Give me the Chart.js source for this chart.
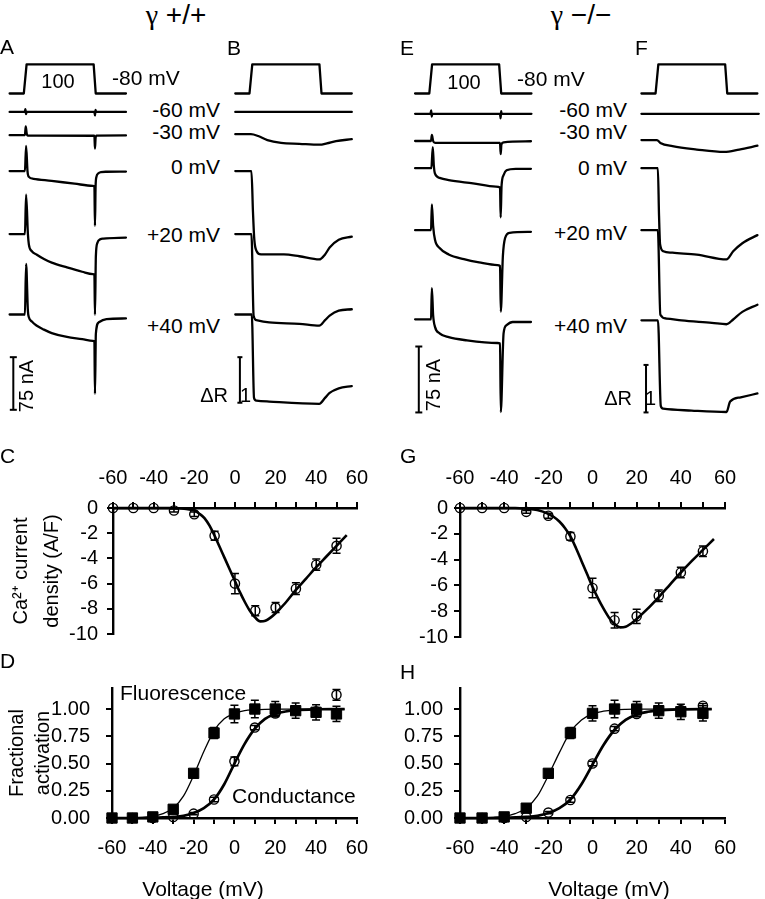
<!DOCTYPE html>
<html><head><meta charset="utf-8">
<script src="https://cdn.jsdelivr.net/npm/chart.js@4/dist/chart.umd.min.js"></script>
<style>
html,body{margin:0;padding:0;background:#fff;}
#fig{position:relative;width:765px;height:899px;overflow:hidden;font-family:"Liberation Sans",Arial,Helvetica,sans-serif;color:#000;}
#fig canvas{position:absolute;}
.t{position:absolute;white-space:nowrap;line-height:1;z-index:5;}
</style></head>
<body><div id="fig"></div>
<script>
// ================= DATA =================
const testPotentials = ['-60 mV', '-30 mV', '0 mV', '+20 mV', '+40 mV'];
const holdingLabel = '-80 mV';
const pulseDuration = 100;          // ms
const scaleBarCurrent = 75;         // nA
const scaleBarFluo = 1;             // ΔR

// voltage protocol: time (ms from pulse onset), level (0 = holding, 1 = test pulse)
const protocolTrace = [[-22.4,0],[-2,0],[2,1],[98.5,1],[101.5,0],[145,0]];

// γ+/+ currents (nA vs ms)
const iWT_m60 = [[-22.4,0],[-0.6,0],[0.3,4],[1.2,-3],[2,0],[99.6,0],[100.4,-5],[101.2,3],[102,0],[145,0]];
const iWT_m30 = [[-22.4,0],[-0.4,0],[0.8,12.5],[2.2,2],[3.5,-0.5],[99.6,-0.8],[100.4,-19],[101.3,-4],[102.5,-0.5],[145,-0.3]];
const iWT_0   = [[-22.4,0],[-0.4,0],[1.3,36],[3.3,0],[5.3,-8.3],[11.8,-11],[38,-14],[71,-18],[97.4,-21],[99.6,-22],[100.4,-78],[101.3,-22],[102.6,-8],[105,-3.5],[109,-1.4],[117,-1],[145,-0.7]];
const iWT_p20 = [[-22.4,0],[-0.4,0],[1.3,56],[3.9,0],[5.3,-15],[9.6,-24.5],[16.2,-29],[27,-35.5],[38.2,-40.7],[60.1,-47.6],[82,-53.7],[97.4,-57],[99.6,-58],[100.4,-115],[101.7,-31.5],[103.9,-12.5],[108,-7.5],[112.7,-6.5],[145,-5.1]];
const iWT_p40 = [[-22.4,0],[-0.4,0],[1.3,72],[3.9,5],[5.3,-4],[9.6,-10],[16.2,-15.7],[27,-21.5],[38.2,-26.4],[60.1,-32],[82,-35],[97.4,-37.5],[99.6,-38.5],[100.4,-113],[101.7,-27.4],[106,-11],[117,-6.5],[145,-5.6]];
// γ+/+ fluorescence (ΔR vs ms)
const fWT_m60 = [[-22.4,0],[145,0]];
const fWT_m30 = [[-22.4,0],[0,0],[10.5,-0.04],[23.7,-0.13],[43.4,-0.19],[69.7,-0.21],[98.7,-0.23],[109.2,-0.2],[122.4,-0.15],[145,-0.11]];
const fWT_0   = [[-22.4,0],[0.8,0],[3,-0.9],[4.9,-1.5],[8.3,-1.76],[14.5,-1.83],[47.4,-1.83],[69.7,-1.87],[98.3,-1.94],[106.6,-1.83],[113.2,-1.68],[126.3,-1.51],[145,-1.44]];
const fWT_p20 = [[-22.4,0],[0.8,0],[3.9,-1.79],[7.9,-1.89],[26.3,-1.94],[69.7,-1.97],[98.3,-2.01],[106.6,-1.89],[113.2,-1.79],[126.3,-1.68],[145,-1.65]];
const fWT_p40 = [[-22.4,0],[1.3,0],[4.5,-1.83],[7.9,-1.89],[26.3,-1.91],[98.3,-1.96],[106.6,-1.83],[113.2,-1.72],[126.3,-1.62],[145,-1.57]];
// γ−/− currents (nA vs ms)
const iKO_m60 = [[-22.4,0],[-0.3,0],[0.7,4],[1.5,-3],[2.3,0],[99.8,0],[100.6,-5],[101.4,3],[102.2,0],[145,0]];
const iKO_m30 = [[-22.4,0],[0.5,0],[1.7,7],[3.5,0],[6.2,-2.2],[96,-2.2],[99.8,-2.2],[100.7,-15],[101.8,-4],[104.9,-1.5],[144.3,-0.3]];
const iKO_0   = [[-22.4,0],[1,0],[3,24],[4.5,3],[6.2,-6.3],[12.8,-11],[25.9,-13.6],[60.9,-17.3],[93.8,-21],[99.8,-22],[100.7,-56],[102,-20],[104.9,-8],[109.2,-2.5],[122.4,-0.8],[144.3,-0.8]];
const iKO_p20 = [[-22.4,0],[0.5,0],[1.7,29.4],[3.5,5],[6.2,-11],[12.8,-20.2],[25.9,-27.6],[47.8,-33],[69.7,-36.7],[96,-39.7],[99.8,-40.5],[100.9,-92.6],[103.9,-29.4],[107,-9.2],[113.6,-3],[144.3,-1.9]];
const iKO_p40 = [[-22.4,0],[0.5,0],[1.7,35.6],[3.5,5],[6.2,-8.5],[12.8,-15.9],[25.9,-20.3],[52.2,-23.9],[96,-26.9],[99.8,-27.5],[100.9,-105.5],[104.9,-15.9],[109.2,-6.6],[118,-3],[144.3,-3]];
// γ−/− fluorescence (ΔR vs ms)
const fKO_m60 = [[-22.4,0],[147,0]];
const fKO_m30 = [[-22.4,0],[0,0],[4.9,-0.06],[22.4,-0.13],[57.5,-0.2],[97,-0.25],[118.8,-0.2],[145.1,-0.12]];
const fKO_0   = [[-22.4,0],[1.3,0],[3,-1.0],[4.5,-1.6],[9.2,-1.75],[22.4,-1.78],[57.5,-1.82],[100.4,-1.92],[110.1,-1.75],[123.3,-1.58],[145.1,-1.41]];
const fKO_p20 = [[-22.4,0],[1.3,0],[4.9,-1.78],[13.6,-1.86],[35.5,-1.9],[79.3,-1.95],[100.4,-1.98],[110.1,-1.88],[123.3,-1.72],[145.1,-1.57]];
const fKO_p40 = [[-22.4,0],[1.5,0],[5.5,-1.8],[9,-1.86],[50,-1.9],[100.4,-1.93],[105.7,-1.71],[121,-1.62],[145.1,-1.54]];

// I-V and activation data
const voltages = [-60,-50,-40,-30,-20,-10,0,10,20,30,40,50];
const ivWT    = [0,0,0,-0.2,-0.5,-2.2,-6.0,-8.15,-7.9,-6.4,-4.5,-3.0];
const ivWTerr = [0,0,0,0.12,0.18,0.35,0.8,0.4,0.4,0.47,0.45,0.6];
const ivKO    = [0,0,0,-0.3,-0.6,-2.2,-6.2,-8.7,-8.4,-6.8,-5.0,-3.35];
const ivKOerr = [0,0,0,0.1,0.2,0.3,0.75,0.6,0.55,0.45,0.4,0.4];
const ivFitVolt = [-60,-50,-40,-35,-30,-25,-20,-17.5,-15,-12.5,-10,-7.5,-5,-2.5,0,2.5,5,7.5,10,12.5,15,17.5,20,25,30,35,40,45,50,55];
const ivFitWT   = [0,0,0,0,0,-0.05,-0.2,-0.45,-0.8,-1.4,-2.2,-3.1,-4.0,-4.9,-5.8,-6.7,-7.5,-8.2,-8.7,-9.0,-8.95,-8.7,-8.35,-7.5,-6.5,-5.6,-4.7,-3.85,-3.0,-2.15];
const ivFitKO   = [0,0,0,0,-0.05,-0.15,-0.45,-0.7,-1.05,-1.55,-2.2,-3.1,-4.1,-5.1,-6.1,-7.0,-7.8,-8.5,-9.0,-9.25,-9.2,-8.95,-8.6,-7.8,-6.9,-5.95,-5.0,-4.1,-3.25,-2.4];

const fluoWT    = [0,0,0.01,0.08,0.41,0.78,0.955,1.0,1.0,0.985,0.97,0.955];
const fluoWTerr = [0,0,0,0.02,0.03,0.05,0.08,0.08,0.07,0.07,0.07,0.07];
const condWT    = [0,0,0,0.01,0.04,0.17,0.52,0.83,0.96,0.99,0.98,1.13];
const condWTerr = [0,0,0,0,0.01,0.02,0.04,0.02,0.02,0.02,0.02,0.05];
const fluoKO    = [0,0,0.01,0.09,0.41,0.78,0.96,1.0,1.0,0.985,0.975,0.96];
const fluoKOerr = [0,0,0,0.02,0.03,0.05,0.07,0.08,0.07,0.07,0.07,0.07];
const condKO    = [0,0,0,0.01,0.05,0.165,0.5,0.82,0.955,0.99,0.99,1.03];
const condKOerr = [0,0,0,0,0.01,0.02,0.02,0.02,0.02,0.02,0.02,0.02];
const actFitVolt  = [-60,-50,-45,-40,-35,-30,-25,-20,-15,-10,-5,0,5,10,15,20,25,30,40,54];
const fitFluoWT   = [0,0.002,0.006,0.017,0.04,0.09,0.2,0.39,0.61,0.8,0.91,0.96,0.985,0.993,0.997,0.999,1,1,1,1];
const fitCondWT   = [0,0,0,0.002,0.005,0.01,0.02,0.045,0.09,0.17,0.31,0.5,0.68,0.82,0.91,0.955,0.977,0.99,0.998,1];
const fitFluoKO   = [0,0.002,0.006,0.015,0.04,0.09,0.2,0.39,0.6,0.79,0.9,0.955,0.98,0.992,0.997,0.999,1,1,1,1];
const fitCondKO   = [0,0,0,0.002,0.005,0.01,0.02,0.045,0.09,0.17,0.31,0.49,0.67,0.81,0.9,0.95,0.975,0.988,0.997,1];

const voltageTickMarks  = [-60,-50,-40,-30,-20,-10,0,10,20,30,40,50,60];
const voltageTickLabels = [-60,-40,-20,0,20,40,60];
const currentTicks      = [0,-2,-4,-6,-8,-10];
const activationTicks   = [0,0.25,0.5,0.75,1];

// ================= LAYOUT (pixels) =================
const PANEL_A = {left:0,   top:40, width:140, height:392, x0:21,  msPx:0.76, unitPx:0.724, rows:[108,132,169,234,317], proto:[89,59], bar:[8,361],   capR:3.5};
const PANEL_B = {left:222, top:40, width:142, height:392, x0:247, msPx:0.76, unitPx:47,    rows:[108,131,169,234,317], proto:[89,59], bar:[235,361], capR:2.5};
const PANEL_E = {left:400, top:40, width:140, height:392, x0:427, msPx:0.76, unitPx:0.907, rows:[110,138,166,230,322], proto:[89,59], bar:[414,350], capR:3.5};
const PANEL_F = {left:630, top:40, width:135, height:392, x0:653, msPx:0.76, unitPx:49,    rows:[110,137,166,230,323], proto:[89,59], bar:[641,369], capR:2.5};

const FONT = "'Liberation Sans', Arial, Helvetica, sans-serif";
Chart.defaults.font.family = FONT;
Chart.defaults.font.size = 20;
Chart.defaults.color = '#000';

const fig = document.getElementById('fig');

function txt(s, x, y, o = {}) {
  const d = document.createElement('div');
  d.className = 't';
  if (o.html) d.innerHTML = s; else d.textContent = s;
  d.style.left = x + 'px'; d.style.top = y + 'px';
  d.style.fontSize = (o.size || 21) + 'px';
  const ax = o.anchor === 'r' ? '-100%' : o.anchor === 'l' ? '0' : '-50%';
  d.style.transform = `translate(${ax},-50%)` + (o.rot ? ` rotate(${o.rot}deg)` : '');
  fig.appendChild(d);
  return d;
}

function addCanvas(left, top, w, h) {
  const cv = document.createElement('canvas');
  cv.width = w; cv.height = h;
  cv.style.left = left + 'px'; cv.style.top = top + 'px';
  cv.style.width = w + 'px'; cv.style.height = h + 'px';
  fig.appendChild(cv);
  return cv;
}

const baseOpts = {
  responsive: false, animation: false, devicePixelRatio: 1, events: [],
  plugins: { legend: { display: false }, tooltip: { enabled: false } }
};

const traceStyle = {
  borderColor: '#000', borderWidth: 2.3, pointRadius: 0, cubicInterpolationMode: 'monotone',
  borderJoinStyle: 'round', borderCapStyle: 'round', fill: false, clip: false
};

function traceChart(P, traces, barValue) {
  const cv = addCanvas(P.left, P.top, P.width, P.height);
  const toT = px => (px - P.x0) / P.msPx;
  const toU = px => -(px - P.top) / P.unitPx;
  const span = P.proto[0] - P.proto[1];
  const datasets = [];
  datasets.push(Object.assign({ data: protocolTrace.map(p => ({ x: p[0] * pulseDuration / 100, y: p[1] })), yAxisID: 'yP' }, traceStyle, { cubicInterpolationMode: 'default', tension: 0 }));
  traces.forEach((tr, i) => {
    const base = toU(P.rows[i]);
    datasets.push(Object.assign({ data: tr.map(p => ({ x: p[0], y: base + p[1] })), yAxisID: 'y' }, traceStyle));
  });
  const bx = toT(P.bar[0]), bt = toU(P.bar[1]);
  datasets.push({ data: [{ x: bx, y: bt }, { x: bx, y: bt - barValue }], yAxisID: 'y', borderColor: '#000', borderWidth: 2,
    pointStyle: 'line', pointRadius: P.capR, pointBorderWidth: 2, pointBorderColor: '#000', showLine: true, clip: false });
  new Chart(cv, {
    type: 'line', data: { datasets },
    options: Object.assign({}, baseOpts, {
      layout: { padding: 0 },
      scales: {
        x: { type: 'linear', display: false, min: toT(P.left), max: toT(P.left + P.width) },
        y: { type: 'linear', display: false, min: toU(P.top + P.height), max: toU(P.top) },
        yP: { type: 'linear', display: false, min: -(P.top + P.height - P.proto[0]) / span, max: (P.proto[0] - P.top) / span }
      }
    })
  });
}

traceChart(PANEL_A, [iWT_m60, iWT_m30, iWT_0, iWT_p20, iWT_p40], scaleBarCurrent);
traceChart(PANEL_B, [fWT_m60, fWT_m30, fWT_0, fWT_p20, fWT_p40], scaleBarFluo);
traceChart(PANEL_E, [iKO_m60, iKO_m30, iKO_0, iKO_p20, iKO_p40], scaleBarCurrent);
traceChart(PANEL_F, [fKO_m60, fKO_m30, fKO_0, fKO_p20, fKO_p40], scaleBarFluo);

// ---------- error bars ----------
const errorBarPlugin = {
  id: 'errorBars',
  afterDatasetDraw(chart, args) {
    const ds = chart.data.datasets[args.index];
    if (!ds.errors) return;
    const ys = chart.scales.y, ctx = chart.ctx;
    ctx.save();
    ctx.strokeStyle = '#000'; ctx.lineWidth = 1.5;
    args.meta.data.forEach((el, i) => {
      const e = ds.errors[i]; if (!e) return;
      const v = ds.data[i].y;
      const yt = ys.getPixelForValue(v + e), yb = ys.getPixelForValue(v - e);
      const w = 4;
      ctx.beginPath();
      ctx.moveTo(el.x, yt); ctx.lineTo(el.x, yb);
      ctx.moveTo(el.x - w, yt); ctx.lineTo(el.x + w, yt);
      ctx.moveTo(el.x - w, yb); ctx.lineTo(el.x + w, yb);
      ctx.stroke();
    });
    ctx.restore();
  }
};

const gridOpts = { drawOnChartArea: false, drawTicks: true, tickLength: 6, color: '#000', lineWidth: 2 };
const borderOpts = { display: true, color: '#000', width: 2.4 };

function xScale(pos, h, pad) {
  return {
    type: 'linear', position: pos, min: -60, max: 60,
    afterBuildTicks: s => { s.ticks = voltageTickMarks.map(v => ({ value: v })); },
    ticks: { autoSkip: false, maxRotation: 0, padding: pad, callback: v => voltageTickLabels.includes(v) ? String(v) : '' },
    grid: gridOpts, border: borderOpts,
    afterFit: s => { s.height = h; }
  };
}

function pts(xs, ys) { return xs.map((x, i) => ({ x, y: ys[i] })); }

const circleStyle = { showLine: false, pointStyle: 'circle', pointRadius: 4.6, pointBorderWidth: 1.4,
  pointBackgroundColor: 'rgba(0,0,0,0)', pointBorderColor: '#000', borderColor: '#000', clip: false };
const squareStyle = { showLine: false, pointStyle: 'rect', pointRadius: 7.3, pointBorderWidth: 1,
  pointBackgroundColor: '#000', pointBorderColor: '#000', borderColor: '#000', clip: false };
const fitStyle = { pointRadius: 0, borderColor: '#000', cubicInterpolationMode: 'monotone', fill: false, clip: false };

function ivChart(left, top, w, h, yW, rightPad, ivData, ivErr, fit, yTickPad, withTitle) {
  const cv = addCanvas(left, top, w, h);
  new Chart(cv, {
    type: 'line',
    data: { datasets: [
      Object.assign({ data: pts(voltages, ivData), errors: ivErr }, circleStyle),
      Object.assign({ data: pts(ivFitVolt, fit), borderWidth: 2.6 }, fitStyle)
    ] },
    options: Object.assign({}, baseOpts, {
      layout: { padding: { left: 0, right: rightPad, top: 0, bottom: 17 } },
      scales: {
        x: xScale('top', 68, 12),
        y: {
          type: 'linear', position: 'left', min: -10, max: 0,
          afterBuildTicks: s => { s.ticks = currentTicks.map(v => ({ value: v })); },
          ticks: { autoSkip: false, padding: yTickPad, callback: v => String(v) },
          grid: gridOpts, border: borderOpts,
          title: { display: withTitle, text: ['Ca²⁺ current', 'density (A/F)'], font: { size: 20, lineHeight: 1.55 }, padding: { top: 6, bottom: 0 } },
          afterFit: s => { s.width = yW; }
        }
      }
    }),
    plugins: [errorBarPlugin]
  });
}

function actChart(left, top, w, h, yW, rightPad, fluo, fluoErr, cond, condErr, fitF, fitC, yTickPad, withTitle) {
  const cv = addCanvas(left, top, w, h);
  new Chart(cv, {
    type: 'line',
    data: { datasets: [
      Object.assign({ data: pts(voltages, fluo), errors: fluoErr }, squareStyle),
      Object.assign({ data: pts(voltages, cond), errors: condErr }, circleStyle),
      Object.assign({ data: pts(actFitVolt, fitF), borderWidth: 1.3 }, fitStyle),
      Object.assign({ data: pts(actFitVolt, fitC), borderWidth: 2.7 }, fitStyle)
    ] },
    options: Object.assign({}, baseOpts, {
      layout: { padding: { left: 0, right: rightPad, top: 33, bottom: 0 } },
      scales: {
        x: xScale('bottom', 81, 12),
        y: {
          type: 'linear', position: 'left', min: 0, max: 1.193,
          afterBuildTicks: s => { s.ticks = activationTicks.map(v => ({ value: v })); },
          ticks: { autoSkip: false, padding: yTickPad, callback: v => Number(v).toFixed(2) },
          grid: gridOpts, border: borderOpts,
          title: { display: withTitle, text: ['Fractional', 'activation'], font: { size: 20, lineHeight: 1.3 }, padding: { top: 4, bottom: 0 } },
          afterFit: s => { s.width = yW; }
        }
      }
    }),
    plugins: [errorBarPlugin]
  });
}

ivChart(0, 440, 380, 215, 113, 20, ivWT, ivWTerr, ivFitWT, 9, true);
ivChart(380, 440, 385, 215, 80, 40, ivKO, ivKOerr, ivFitKO, 6, false);
actChart(0, 655, 380, 244, 112, 18, fluoWT, fluoWTerr, condWT, condWTerr, fitFluoWT, fitCondWT, 16, true);
actChart(380, 655, 385, 244, 80, 40, fluoKO, fluoKOerr, condKO, condKOerr, fitFluoKO, fitCondKO, 11, false);

// ================= TEXT =================
const SERIF = "'Liberation Serif','DejaVu Serif',serif";
txt(`<span style="font-family:${SERIF}">γ</span> +/+`, 176, 15, { size: 28, html: true });
txt(`<span style="font-family:${SERIF}">γ</span> −/−`, 581, 15, { size: 28, html: true });

[['A',0,46],['B',227,47],['E',400,47],['F',635,47],['C',0,455],['G',400,455],['D',0,660],['H',400,671]]
  .forEach(([s, x, y]) => txt(s, x, y, { size: 21, anchor: 'l' }));

txt(String(pulseDuration), 58, 81, { size: 20 });
txt(String(pulseDuration), 464, 82, { size: 20 });
txt(holdingLabel, 112, 77, { anchor: 'l' });
txt(holdingLabel, 517, 78, { anchor: 'l' });

const labelY_left  = [109, 131, 166, 234, 325];
const labelY_right = [109, 131, 167, 232, 325];
testPotentials.forEach((s, i) => {
  txt(s, 220, labelY_left[i], { anchor: 'r' });
  txt(s, 627, labelY_right[i], { anchor: 'r' });
});

txt(scaleBarCurrent + ' nA', 26, 386, { size: 20, rot: -90 });
txt(scaleBarCurrent + ' nA', 433, 385, { size: 20, rot: -90 });
txt('ΔR', 228, 395, { size: 20, anchor: 'r' });
txt(String(scaleBarFluo), 240, 395, { size: 20, anchor: 'l' });
txt('ΔR', 632, 398, { size: 20, anchor: 'r' });
txt(String(scaleBarFluo), 645, 398, { size: 20, anchor: 'l' });

txt('Fluorescence', 120, 692, { anchor: 'l' });
txt('Conductance', 232, 795, { anchor: 'l' });
txt('Voltage (mV)', 203, 888);
txt('Voltage (mV)', 609, 888);
</script>
</body></html>
